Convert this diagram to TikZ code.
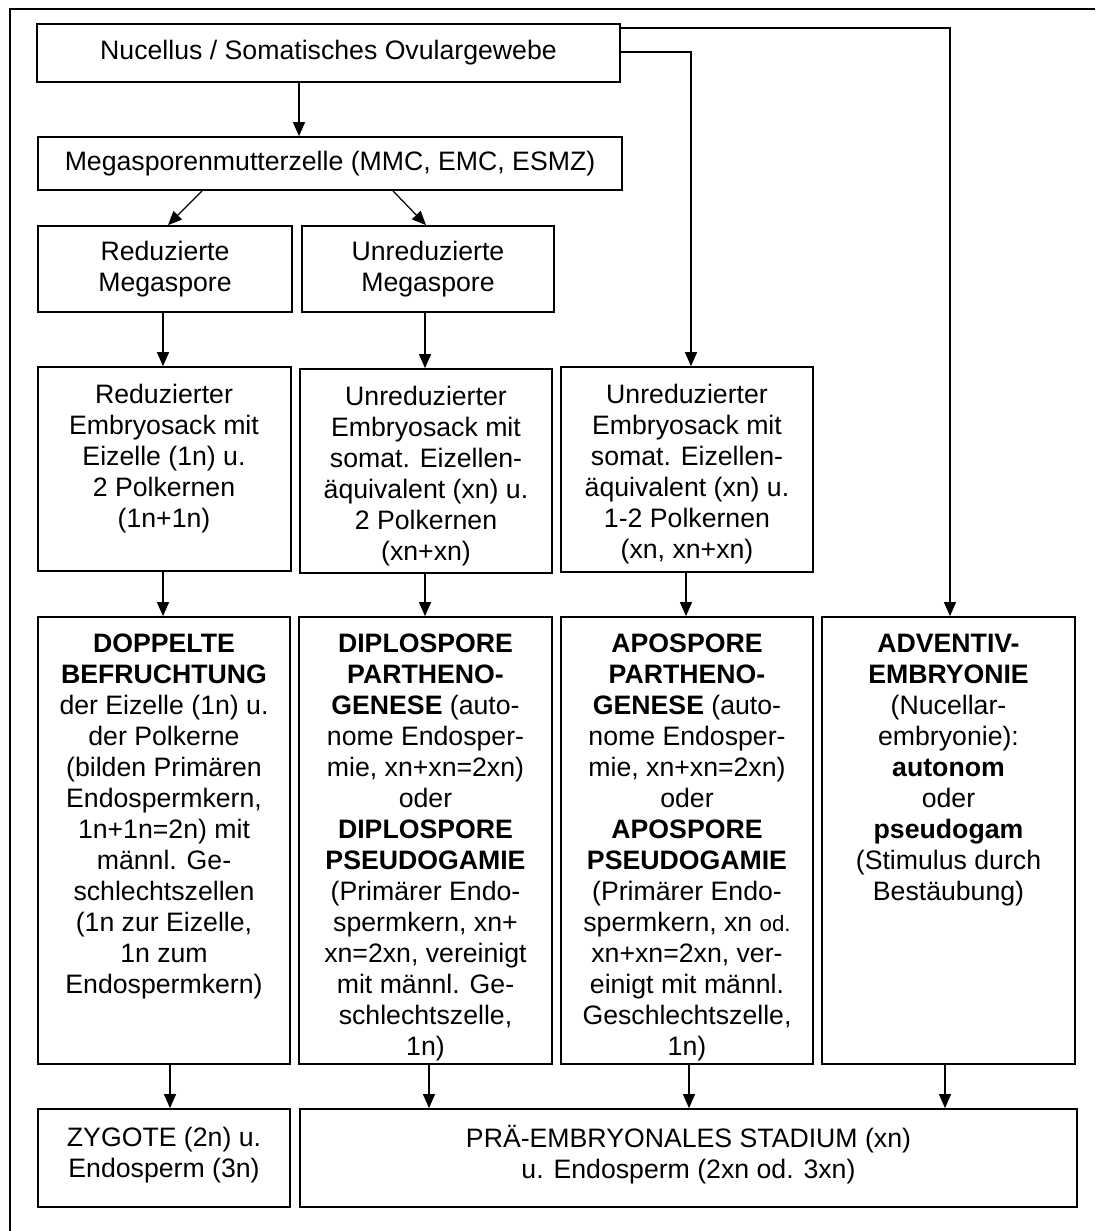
\documentclass[tikz,border=0pt]{standalone}
\usepackage{fontspec}
\setmainfont{Liberation Sans}
\usetikzlibrary{arrows.meta,fit}
\tikzset{
  boxst/.style={draw=black, line width=0.8pt, inner sep=0pt},
  txt/.style={align=center, inner sep=0pt, font=\fontsize{12}{13.95}\selectfont},
  arr/.style={draw=black, line width=0.55pt, -{Triangle[length=6.3pt,width=5.4pt]}},
  ln/.style={draw=black, line width=0.55pt}
}
\begin{document}
\begin{tikzpicture}[x=0.45pt,y=-0.45pt]
\useasboundingbox (0,0) rectangle (1095,1231);
% outer frame (cut at right and bottom)
\draw[line width=0.8pt] (10,1231) -- (10,9) -- (1095,9);

% boxes
\node[boxst, fit={(37,24) (620,82)}] (nuc) {};
\node[txt] (nuct) at (nuc.center) {Nucellus / Somatisches Ovulargewebe};

\node[boxst, fit={(38,137) (622,190)}] (mmc) {};
\node[txt] (mmct) at (mmc.center) {Megasporenmutterzelle (MMC, EMC, ESMZ)};

\node[boxst, fit={(38,226) (292,312)}] (rms) {};
\node[txt] (rmst) at (rms.center) {Reduzierte\\Megaspore};
\node[boxst, fit={(302,226) (554,312)}] (ums) {};
\node[txt] (umst) at (ums.center) {Unreduzierte\\Megaspore};

\node[boxst, fit={(38,367) (291,571)}] (r3a) {};
\node[txt, anchor=north] (r3at) at (164,383.5) {Reduzierter\\Embryosack mit\\Eizelle (1n) u.\\2 Polkernen\\(1n+1n)};
\node[boxst, fit={(300,369) (552,573)}] (r3b) {};
\node[txt, anchor=north] (r3bt) at (426,385.5) {Unreduzierter\\Embryosack mit\\somat. Eizellen-\\äquivalent (xn) u.\\2 Polkernen\\(xn+xn)};
\node[boxst, fit={(561,367) (813,572)}] (r3c) {};
\node[txt, anchor=north] (r3ct) at (687,383.5) {Unreduzierter\\Embryosack mit\\somat. Eizellen-\\äquivalent (xn) u.\\1-2 Polkernen\\(xn, xn+xn)};

\node[boxst, fit={(38,617) (290,1064)}] (r4a) {};
\node[txt, anchor=north] (r4at) at (164,633.5) {\textbf{DOPPELTE}\\\textbf{BEFRUCHTUNG}\\der Eizelle (1n) u.\\der Polkerne\\(bilden Primären\\Endospermkern,\\1n+1n=2n) mit\\männl. Ge-\\schlechtszellen\\(1n zur Eizelle,\\1n zum\\Endospermkern)};
\node[boxst, fit={(299,617) (552,1064)}] (r4b) {};
\node[txt, anchor=north] (r4bt) at (425.5,633.5) {\textbf{DIPLOSPORE}\\\textbf{PARTHENO-}\\\textbf{GENESE} (auto-\\nome Endosper-\\mie, xn+xn=2xn)\\oder\\\textbf{DIPLOSPORE}\\\textbf{PSEUDOGAMIE}\\(Primärer Endo-\\spermkern, xn+\\xn=2xn, vereinigt\\mit männl. Ge-\\schlechtszelle,\\1n)};
\node[boxst, fit={(561,617) (813,1064)}] (r4c) {};
\node[txt, anchor=north] (r4ct) at (687,633.5) {\textbf{APOSPORE}\\\textbf{PARTHENO-}\\\textbf{GENESE} (auto-\\nome Endosper-\\mie, xn+xn=2xn)\\oder\\\textbf{APOSPORE}\\\textbf{PSEUDOGAMIE}\\(Primärer Endo-\\spermkern, xn {\fontsize{10}{12}\selectfont od.}\\xn+xn=2xn, ver-\\einigt mit männl.\\Geschlechtszelle,\\1n)};
\node[boxst, fit={(822,617) (1075,1064)}] (r4d) {};
\node[txt, anchor=north] (r4dt) at (948.5,633.5) {\textbf{ADVENTIV-}\\\textbf{EMBRYONIE}\\(Nucellar-\\embryonie):\\\textbf{autonom}\\oder\\\textbf{pseudogam}\\(Stimulus durch\\Bestäubung)};

\node[boxst, fit={(38,1109) (290,1207)}] (zyg) {};
\node[txt] (zygt) at ([yshift=1.5pt]zyg.center) {ZYGOTE (2n) u.\\Endosperm (3n)};
\node[boxst, fit={(300,1109) (1077,1207)}] (pre) {};
\node[txt] (pret) at ([yshift=1.5pt]pre.center) {PRÄ-EMBRYONALES STADIUM (xn)\\u. Endosperm (2xn od. 3xn)};

% helper coordinates
\coordinate (xa) at (299,0);
\coordinate (d1s) at (202,0);
\coordinate (d1e) at (168,0);
\coordinate (d2s) at (393,0);
\coordinate (d2e) at (426,0);
\coordinate (c1) at (163,0);
\coordinate (c2) at (425,0);
\coordinate (c3) at (686,0);
\coordinate (c3t) at (691,0);
\coordinate (c4) at (950,0);
\coordinate (yhi) at (0,28);
\coordinate (ylo) at (0,52);
\coordinate (b1) at (170,0);
\coordinate (b2) at (429,0);
\coordinate (b3) at (689,0);
\coordinate (b4) at (945,0);

% connectors
\draw[arr] (nuc.south -| xa) -- (mmc.north -| xa);
\draw[arr] (mmc.south -| d1s) -- (rms.north -| d1e);
\draw[arr] (mmc.south -| d2s) -- (ums.north -| d2e);
\draw[arr] (rms.south -| c1) -- (r3a.north -| c1);
\draw[arr] (ums.south -| c2) -- (r3b.north -| c2);
\draw[arr] (nuc.east |- ylo) -| (r3c.north -| c3t);
\draw[arr] (nuc.east |- yhi) -| (r4d.north -| c4);
\draw[arr] (r3a.south -| c1) -- (r4a.north -| c1);
\draw[arr] (r3b.south -| c2) -- (r4b.north -| c2);
\draw[arr] (r3c.south -| c3) -- (r4c.north -| c3);
\draw[arr] (r4a.south -| b1) -- (zyg.north -| b1);
\draw[arr] (r4b.south -| b2) -- (pre.north -| b2);
\draw[arr] (r4c.south -| b3) -- (pre.north -| b3);
\draw[arr] (r4d.south -| b4) -- (pre.north -| b4);
\end{tikzpicture}
\end{document}
